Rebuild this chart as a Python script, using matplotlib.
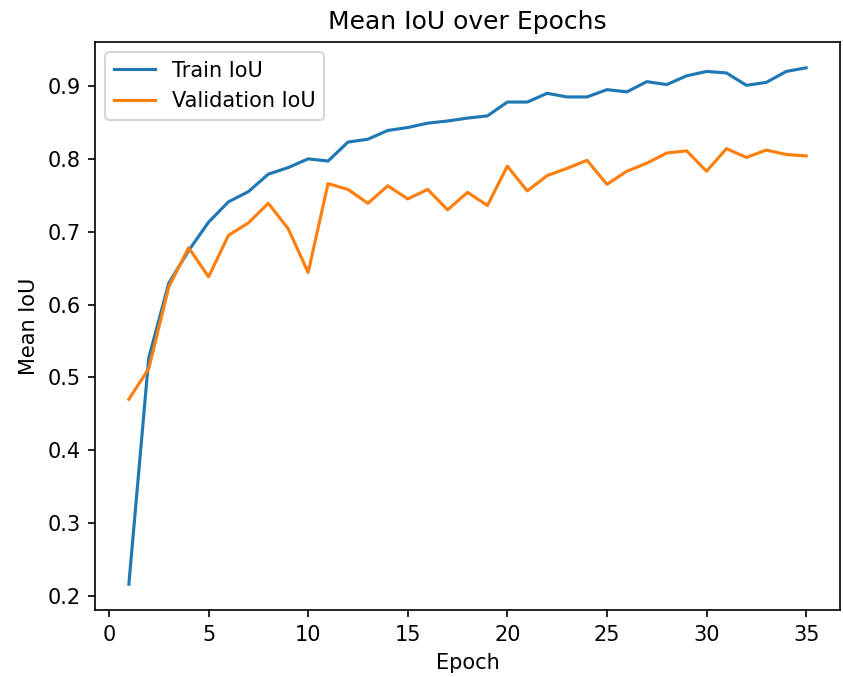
import matplotlib.pyplot as plt

epochs = list(range(1, 36))
train_iou = [0.216, 0.527, 0.629, 0.674, 0.713, 0.741, 0.755, 0.779, 0.788, 0.800,
             0.797, 0.823, 0.827, 0.839, 0.843, 0.849, 0.852, 0.856, 0.859, 0.878,
             0.878, 0.890, 0.885, 0.885, 0.895, 0.892, 0.906, 0.902, 0.914, 0.920,
             0.918, 0.901, 0.905, 0.920, 0.925]
val_iou = [0.470, 0.512, 0.624, 0.678, 0.638, 0.695, 0.712, 0.739, 0.704, 0.644,
           0.766, 0.758, 0.739, 0.763, 0.745, 0.758, 0.730, 0.754, 0.736, 0.790,
           0.756, 0.777, 0.787, 0.798, 0.765, 0.783, 0.794, 0.808, 0.811, 0.783,
           0.814, 0.802, 0.812, 0.806, 0.804]

DPI = 150
fig = plt.figure(figsize=(843 / DPI, 677 / DPI), dpi=DPI)
ax = fig.add_axes([95 / 843, 1 - 610 / 677, (840 - 95) / 843, (610 - 42) / 677])
ax.plot(epochs, train_iou, label="Train IoU")
ax.plot(epochs, val_iou, label="Validation IoU")
ax.set_title("Mean IoU over Epochs")
ax.set_xlabel("Epoch")
ax.set_ylabel("Mean IoU")
ax.legend(loc="upper left")
fig.savefig("out.png", dpi=DPI)
